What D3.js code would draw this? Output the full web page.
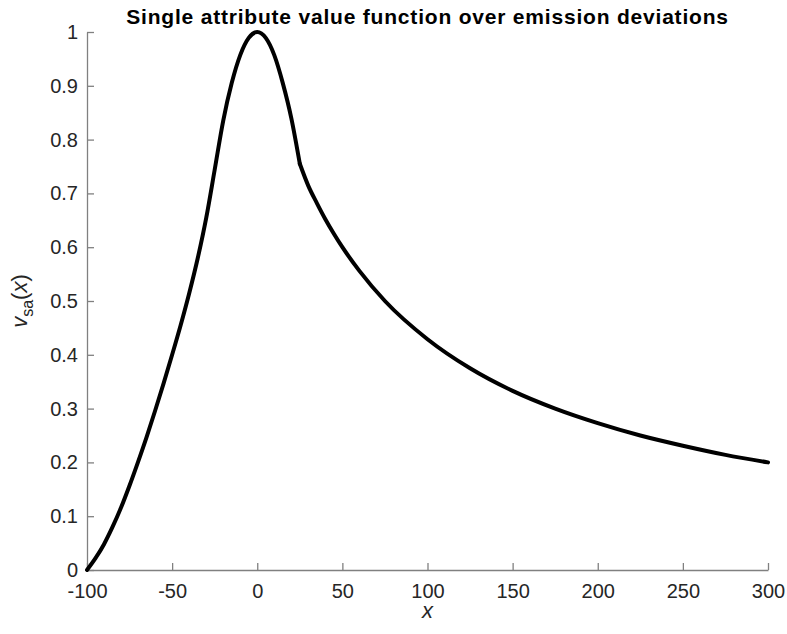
<!DOCTYPE html>
<html>
<head>
<meta charset="utf-8">
<script src="https://d3js.org/d3.v7.min.js"></script>
<style>
  body { margin: 0; background: #fff; }
  svg { font-family: "Liberation Sans", Arial, sans-serif; }
  .axis path, .axis line { stroke: #808080; stroke-width: 1.3px; }
  .axis text { fill: #262626; font-size: 20px; }
</style>
</head>
<body>
<svg id="chart" width="787" height="634"></svg>
<script>
// values
const xVals = [-100, -95, -90, -85, -80, -75, -70, -65, -60, -55, -50, -45, -40, -35, -30, -25, -20, -15, -10, -5, 0,
               5, 10, 15, 20, 25, 30, 35, 40, 45, 50, 60, 75, 100, 125, 150, 175, 200, 225, 250, 275, 300];
const vVals = [0, 0.022, 0.048, 0.08, 0.116, 0.157, 0.201, 0.247, 0.296, 0.347, 0.40, 0.455, 0.514, 0.579, 0.654, 0.744, 0.835, 0.905, 0.957, 0.989, 1,
               0.989, 0.957, 0.905, 0.84, 0.755, 0.714, 0.682, 0.652, 0.625, 0.60, 0.556, 0.50, 0.429, 0.375, 0.333, 0.30, 0.273, 0.25, 0.231, 0.214, 0.20];
const kinkX = 25;
const xTicks = [-100, -50, 0, 50, 100, 150, 200, 250, 300];
const yTicks = [0, 0.1, 0.2, 0.3, 0.4, 0.5, 0.6, 0.7, 0.8, 0.9, 1];
const titleText = "Single attribute value function over emission deviations";

const W = 787, H = 634;
const margin = {top: 32, right: 19, bottom: 64, left: 87};
const svg = d3.select('#chart');

const x = d3.scaleLinear().domain([-100, 300]).range([margin.left, W - margin.right]);
const y = d3.scaleLinear().domain([0, 1]).range([H - margin.bottom, margin.top]);

const fmt = d => String(d); // plain hyphen minus, like the reference

svg.append('g')
  .attr('class', 'axis')
  .attr('transform', 'translate(0,' + (H - margin.bottom) + ')')
  .call(d3.axisBottom(x).tickValues(xTicks).tickSizeInner(-7).tickSizeOuter(0).tickPadding(14).tickFormat(fmt));

svg.append('g')
  .attr('class', 'axis')
  .attr('transform', 'translate(' + margin.left + ',0)')
  .call(d3.axisLeft(y).tickValues(yTicks).tickSizeInner(-7).tickSizeOuter(0).tickPadding(9).tickFormat(fmt));

const pts = xVals.map((d, i) => ({x: d, v: vVals[i]}));
const left = pts.filter(p => p.x <= kinkX);
const right = pts.filter(p => p.x >= kinkX);

const line = d3.line().x(p => x(p.x)).y(p => y(p.v)).curve(d3.curveMonotoneX);
[left, right].forEach(seg => {
  svg.append('path')
    .datum(seg)
    .attr('d', line)
    .attr('fill', 'none')
    .attr('stroke', '#000')
    .attr('stroke-width', 4)
    .attr('stroke-linejoin', 'round')
    .attr('stroke-linecap', 'round');
});

svg.append('text')
  .attr('x', (margin.left + W - margin.right) / 2)
  .attr('y', 24)
  .attr('text-anchor', 'middle')
  .style('font-weight', 'bold')
  .style('font-size', '21px')
  .style('letter-spacing', '0.8px')
  .attr('fill', '#000')
  .text(titleText);

svg.append('text')
  .attr('x', (margin.left + W - margin.right) / 2)
  .attr('y', 618)
  .attr('text-anchor', 'middle')
  .style('font-size', '22px')
  .style('font-style', 'italic')
  .attr('fill', '#262626')
  .text('x');

const yl = svg.append('text')
  .attr('transform', 'translate(27,' + ((margin.top + H - margin.bottom) / 2) + ') rotate(-90)')
  .attr('text-anchor', 'middle')
  .style('font-size', '22px')
  .attr('fill', '#262626');
yl.append('tspan').style('font-style', 'italic').text('v');
yl.append('tspan').attr('dy', 6).style('font-size', '16px').text('sa');
yl.append('tspan').attr('dy', -6).text('(');
yl.append('tspan').style('font-style', 'italic').text('x');
yl.append('tspan').text(')');
</script>
</body>
</html>
